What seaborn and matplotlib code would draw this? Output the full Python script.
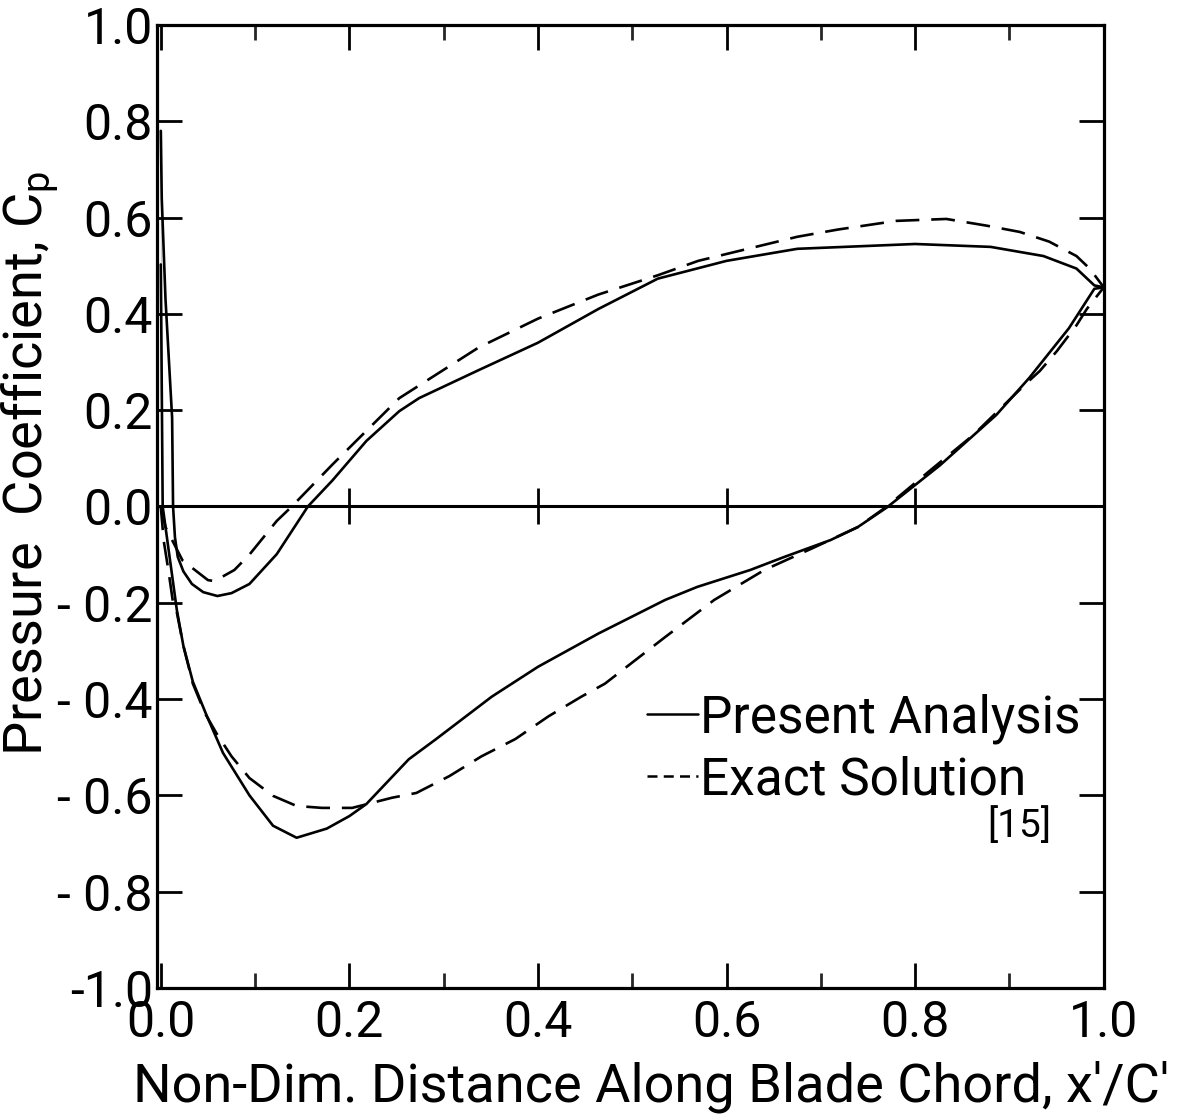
import numpy as np
import pandas as pd
import matplotlib
matplotlib.use("Agg")
import matplotlib.pyplot as plt
import seaborn as sns
from matplotlib.lines import Line2D
from matplotlib.ticker import MultipleLocator

# Present Analysis - upper branch (leading edge -> trailing edge)
pa_up_x = [0.0, 0.001, 0.005, 0.012, 0.013, 0.015, 0.018, 0.024, 0.033, 0.045, 0.06, 0.075, 0.094,
           0.123, 0.156, 0.182, 0.218, 0.253, 0.274, 0.337, 0.40, 0.464, 0.527, 0.60, 0.675, 0.75, 0.80,
           0.88, 0.936, 0.971, 0.99, 1.0]
pa_up_y = [0.78, 0.64, 0.43, 0.184, 0.0, -0.064, -0.105, -0.135, -0.161, -0.178, -0.186, -0.18, -0.161,
           -0.099, 0.0, 0.054, 0.136, 0.198, 0.225, 0.283, 0.34, 0.41, 0.473, 0.51, 0.535, 0.541, 0.545,
           0.539, 0.52, 0.494, 0.459, 0.455]

# Present Analysis - lower branch
pa_lo_x = [0.0, 0.0, 0.002, 0.017, 0.024, 0.034, 0.049, 0.066, 0.094, 0.119, 0.144, 0.176, 0.2,
           0.218, 0.263, 0.292, 0.351, 0.40, 0.464, 0.535, 0.569, 0.625, 0.661, 0.71, 0.739,
           0.77, 0.826, 0.886, 0.921, 0.963, 0.99, 1.0]
pa_lo_y = [0.78, 0.225, 0.0, -0.215, -0.29, -0.364, -0.436, -0.512, -0.60, -0.663, -0.688, -0.669, -0.643,
           -0.618, -0.525, -0.483, -0.395, -0.333, -0.264, -0.194, -0.167, -0.132, -0.105, -0.07, -0.043,
           -0.002, 0.085, 0.19, 0.267, 0.37, 0.452, 0.455]

# Exact Solution [15] - upper branch
ex_up_x = [0.0, 0.005, 0.023, 0.05, 0.057, 0.078, 0.094, 0.123, 0.139, 0.182, 0.2, 0.253, 0.337,
           0.40, 0.464, 0.527, 0.57, 0.633, 0.675, 0.718, 0.78, 0.833, 0.876, 0.911, 0.942,
           0.971, 0.985, 1.0]
ex_up_y = [0.0, -0.043, -0.112, -0.153, -0.155, -0.132, -0.10, -0.03, 0.0, 0.087, 0.122, 0.225, 0.33,
           0.39, 0.44, 0.48, 0.51, 0.54, 0.56, 0.575, 0.593, 0.597, 0.583, 0.570, 0.55,
           0.52, 0.494, 0.455]

# Exact Solution [15] - lower branch
ex_lo_x = [0.0, 0.003, 0.008, 0.013, 0.017, 0.024, 0.034, 0.047, 0.059, 0.075, 0.094, 0.119, 0.144,
           0.171, 0.203, 0.245, 0.271, 0.306, 0.34, 0.376, 0.411, 0.446, 0.471, 0.535, 0.587,
           0.64, 0.693, 0.739, 0.77, 0.816, 0.862, 0.918, 0.932, 0.95, 0.971, 0.982, 1.0]
ex_lo_y = [0.0, -0.07, -0.132, -0.2, -0.22, -0.29, -0.368, -0.43, -0.471, -0.519, -0.564, -0.601, -0.622,
           -0.626, -0.626, -0.605, -0.595, -0.56, -0.519, -0.483, -0.436, -0.395, -0.368, -0.271, -0.194,
           -0.132, -0.085, -0.043, 0.0, 0.075, 0.149, 0.256, 0.281, 0.322, 0.376, 0.41, 0.455]

y_ticks = [-1.0, -0.8, -0.6, -0.4, -0.2, 0.0, 0.2, 0.4, 0.6, 0.8, 1.0]
y_labels = ["-1.0", "- 0.8", "- 0.6", "- 0.4", "- 0.2", "0.0", "0.2", "0.4", "0.6", "0.8", "1.0"]
x_ticks = [0.0, 0.2, 0.4, 0.6, 0.8, 1.0]
x_labels = ["0.0", "0.2", "0.4", "0.6", "0.8", "1.0"]

sns.set_theme(style="ticks")
plt.rcParams["font.family"] = ["Roboto", "DejaVu Sans"]
plt.rcParams["text.color"] = "black"
plt.rcParams["axes.labelcolor"] = "black"

fig = plt.figure(figsize=(11.78, 11.16), dpi=100)
ax = fig.add_axes([0.1333, 0.1147, 0.8037, 0.863])

lw = 1.9
dash = (9, 4.5)
sns.lineplot(x=pa_up_x, y=pa_up_y, sort=False, color="black", lw=lw, ax=ax)
sns.lineplot(x=pa_lo_x, y=pa_lo_y, sort=False, color="black", lw=lw, ax=ax)
sns.lineplot(x=ex_up_x, y=ex_up_y, sort=False, color="black", lw=lw, ax=ax, linestyle=(0, dash))
sns.lineplot(x=ex_lo_x, y=ex_lo_y, sort=False, color="black", lw=lw, ax=ax, linestyle=(0, dash))

# zero line with its crossing ticks
ax.axhline(0, color="black", lw=2.2)
ax.plot(x_ticks[1:-1], [0] * 4, ls="none", marker="|", ms=26, mew=2.0, color="black")

ax.set_xlim(-0.004, 1.0)
ax.set_ylim(-1.0, 1.0)
ax.set_xticks(x_ticks)
ax.set_xticklabels(x_labels)
ax.xaxis.set_minor_locator(MultipleLocator(0.1))
ax.set_yticks(y_ticks)
ax.set_yticklabels(y_labels)

for s in ax.spines.values():
    s.set_linewidth(2.3)
    s.set_color("black")
ax.tick_params(which="major", direction="in", length=18, width=2.0, top=True, right=True,
               labelsize=36, colors="black")
ax.tick_params(axis="x", which="major", pad=8)
ax.tick_params(axis="y", which="major", pad=3)
ax.tick_params(which="minor", direction="in", length=11, width=2.0, top=True, right=True)

ax.set_xlabel("Non-Dim. Distance Along Blade Chord, x\u2032/C\u2032", fontsize=39)
ax.xaxis.set_label_coords(0.522, -0.075)
ax.set_ylabel(r"Pressure  Coefficient, C$_\mathregular{p}$", fontsize=39)
ax.yaxis.set_label_coords(-0.100, 0.545)

handles = [Line2D([], [], color="black", lw=1.8),
           Line2D([], [], color="black", lw=1.8, dashes=(4, 2.5))]
ax.legend(handles, ["Present Analysis", "Exact Solution"], loc="upper left",
          bbox_to_anchor=(0.517, 0.306), frameon=False, fontsize=37, handlelength=1.0,
          handletextpad=0.05, labelspacing=0.22, borderpad=0, borderaxespad=0)
ax.text(0.911, 0.168, "[15]", transform=ax.transAxes, fontsize=28, ha="center", va="center")

fig.savefig("out.png", dpi=100)
